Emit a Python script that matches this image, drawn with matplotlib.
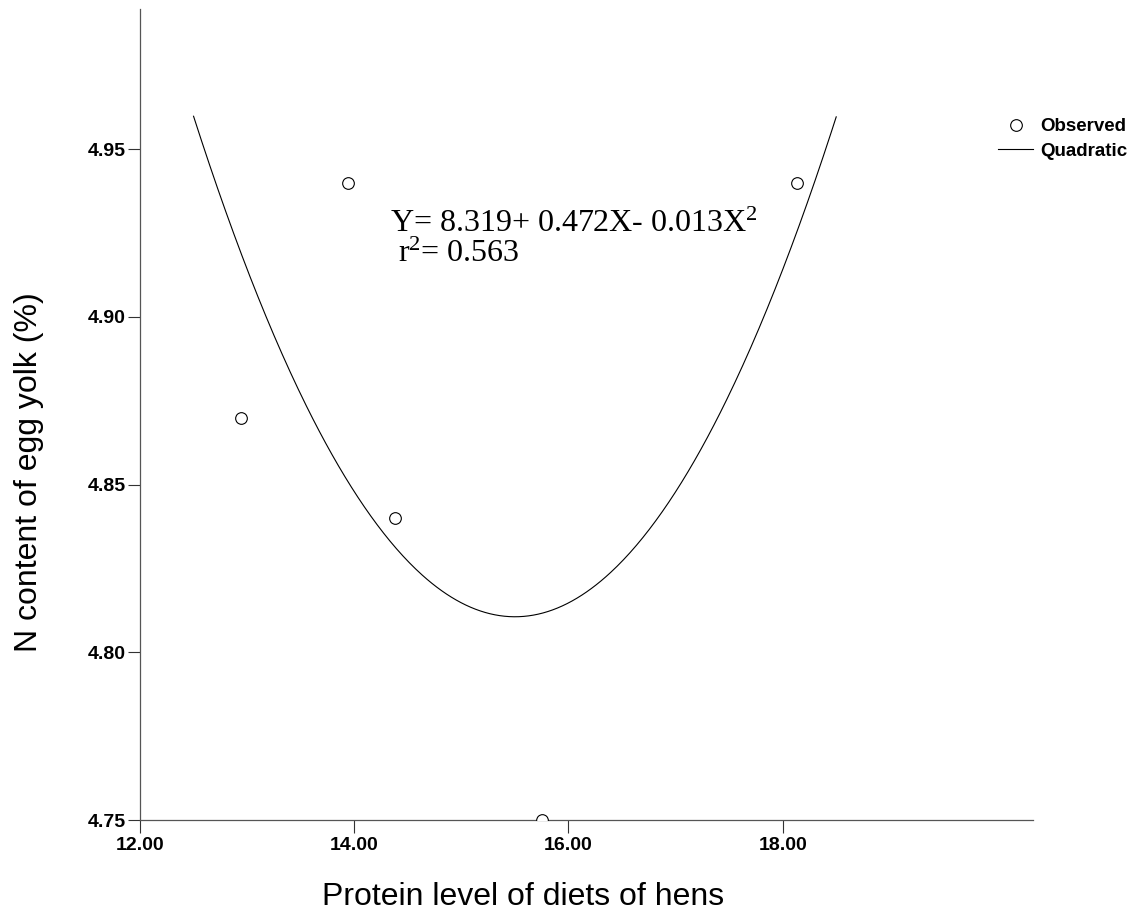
import matplotlib
matplotlib.use("Agg")
import matplotlib.pyplot as plt
import numpy as np

# ---- data ----
protein = [12.94, 13.94, 14.38, 15.75, 18.13]
n_content = [4.87, 4.94, 4.84, 4.75, 4.94]
# quadratic fit line as drawn (c2*x^2 + c1*x + c0) and its x-range
quad_coefs = [0.01657, -0.5137, 8.792]
fit_range = [12.5, 18.5]
x_ticks = [12.0, 14.0, 16.0, 18.0]
y_ticks = [4.75, 4.80, 4.85, 4.90, 4.95]
equation = "Y= 8.319+ 0.472X- 0.013X$^2$"
r2_text = "r$^2$= 0.563"

plt.rcParams['mathtext.fontset'] = 'custom'
plt.rcParams['mathtext.rm'] = 'Liberation Serif'
plt.rcParams['mathtext.it'] = 'Liberation Serif'

W, H = 1132, 913
fig = plt.figure(figsize=(W/100, H/100), dpi=100)
ax = fig.add_axes([140/W, 1-820/H, (1033.3-140)/W, (820-9.3)/H])

xf = np.linspace(fit_range[0], fit_range[1], 400)
yf = np.polyval(quad_coefs, xf)

ax.plot(protein, n_content, linestyle='none', marker='o', markersize=8.4,
        markerfacecolor='white', markeredgecolor='black', markeredgewidth=0.8,
        label='Observed', zorder=3)
ax.plot(xf, yf, color='black', linewidth=0.8, label='Quadratic')

ax.set_xlim(12.0, 20.34)
ax.set_ylim(4.75, 4.9917)
ax.set_xticks(x_ticks)
ax.set_xticklabels([f"{v:.2f}" for v in x_ticks])
ax.set_yticks(y_ticks)
ax.set_yticklabels([f"{v:.2f}" for v in y_ticks])

for s in ['top', 'right']:
    ax.spines[s].set_visible(False)
for s in ['left', 'bottom']:
    ax.spines[s].set_color('#555555')
    ax.spines[s].set_linewidth(0.9)

ax.tick_params(axis='both', direction='out', length=9, width=0.8, color='#333333')
ax.tick_params(axis='x', pad=3)
ax.tick_params(axis='y', pad=1.5)
for lab in ax.get_xticklabels() + ax.get_yticklabels():
    lab.set_fontfamily('Liberation Sans')
    lab.set_fontweight('bold')
    lab.set_fontsize(14)

ax.set_xlabel("Protein level of diets of hens", fontfamily='Liberation Sans',
              fontsize=23, va='baseline', ha='center')
ax.xaxis.set_label_coords(523/W, 1-905/H, transform=fig.transFigure)
ax.set_ylabel("N content of egg yolk (%)", fontfamily='Liberation Sans',
              fontsize=23, va='baseline', ha='center')
ax.yaxis.set_label_coords(37/W, 1-472/H, transform=fig.transFigure)

ax.text(390/W, 1-231.7/H, equation, transform=fig.transFigure,
        fontfamily='Liberation Serif', fontsize=23, va='baseline', ha='left')
ax.text(398/W, 1-262/H, r2_text, transform=fig.transFigure,
        fontfamily='Liberation Serif', fontsize=23, va='baseline', ha='left')

leg = ax.legend(loc='upper left', bbox_to_anchor=(998/W, 1-118/H),
                bbox_transform=fig.transFigure, frameon=False,
                handlelength=1.87, handletextpad=0.37, labelspacing=0.4,
                borderaxespad=0, borderpad=0,
                prop={'family': 'Liberation Sans', 'weight': 'bold', 'size': 13.5})

fig.savefig("out.png", dpi=100)
